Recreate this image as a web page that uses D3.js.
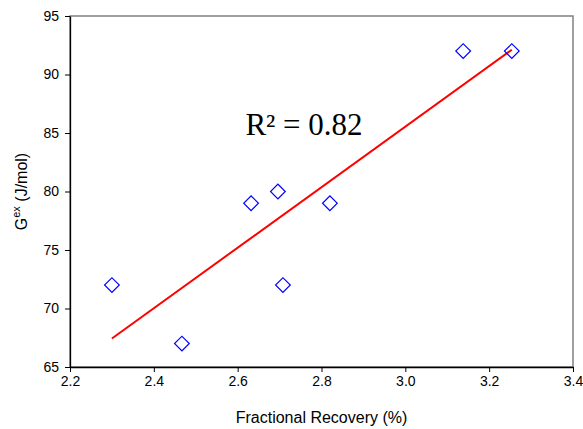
<!DOCTYPE html>
<html>
<head>
<meta charset="utf-8">
<script src="https://cdn.jsdelivr.net/npm/d3@7"></script>
<style>
	body { margin: 0; background: #fff; }
	svg { display: block; font-family: "Liberation Sans", Arial, sans-serif; }
	.axis text { font-size: 14px; fill: #000; }
	.axis path, .axis line { stroke: #000; }
</style>
</head>
<body>
<svg id="plot" width="583" height="429"></svg>
<script>
// values
const RECOVERY = [2.30, 2.467, 2.632, 2.696, 2.708, 2.820, 3.138, 3.254];
const GEX = [72, 67, 79, 80, 72, 79, 92, 92];
const X_TICKS = [2.2, 2.4, 2.6, 2.8, 3.0, 3.2, 3.4];
const Y_TICKS = [65, 70, 75, 80, 85, 90, 95];
const R2_LABEL = 'R\u00B2 = 0.82';

const MARGIN = { top: 16, right: 10, bottom: 62, left: 70 };

const svg = d3.select('#plot');
const width = 583 - MARGIN.left - MARGIN.right;
const height = 429 - MARGIN.top - MARGIN.bottom;

const x = d3.scaleLinear().domain([2.2, 3.4]).range([0, width]);
const y = d3.scaleLinear().domain([65, 95]).range([height, 0]);

const plot = svg.append('g')
	.attr('transform', `translate(${MARGIN.left},${MARGIN.top})`);

// grey plot-area frame (top and right show)
plot.append('rect')
	.attr('width', width)
	.attr('height', height)
	.attr('fill', 'none')
	.attr('stroke', '#808080')
	.attr('stroke-width', 1.5);

plot.append('g')
	.classed('axis', true)
	.attr('transform', `translate(0,${height})`)
	.call(d3.axisBottom(x).tickValues(X_TICKS).tickFormat(d3.format('.1f')).tickSize(5).tickSizeOuter(0).tickPadding(4));

plot.append('g')
	.classed('axis', true)
	.call(d3.axisLeft(y).tickValues(Y_TICKS).tickSize(5).tickSizeOuter(0).tickPadding(6));

plot.selectAll('.axis .domain').attr('stroke-width', 1.3);

// least squares trend line
const data = RECOVERY.map((v, i) => ({ x: v, y: GEX[i] }));
const mx = d3.mean(data, d => d.x);
const my = d3.mean(data, d => d.y);
const slope = d3.sum(data, d => (d.x - mx) * (d.y - my)) / d3.sum(data, d => (d.x - mx) ** 2);
const intercept = my - slope * mx;
const xExt = d3.extent(data, d => d.x);

plot.append('line')
	.attr('x1', x(xExt[0]))
	.attr('y1', y(intercept + slope * xExt[0]))
	.attr('x2', x(xExt[1]))
	.attr('y2', y(intercept + slope * xExt[1]))
	.attr('stroke', '#ff0000')
	.attr('stroke-width', 2);

// diamond markers
const diamond = d3.symbol().type(d3.symbolSquare).size(108);
plot.selectAll('path.pt')
	.data(data)
	.enter()
	.append('path')
		.classed('pt', true)
		.attr('d', diamond)
		.attr('transform', d => `translate(${x(d.x)},${y(d.y)}) rotate(45)`)
		.attr('fill', 'none')
		.attr('stroke', '#0000ff')
		.attr('stroke-width', 1.2);

// R squared annotation
plot.append('text')
	.attr('x', 234)
	.attr('y', 119)
	.attr('text-anchor', 'middle')
	.style('font-family', '"Liberation Serif", "Times New Roman", serif')
	.style('font-size', '31px')
	.text(R2_LABEL);

// axis titles
svg.append('text')
	.attr('x', MARGIN.left + width / 2)
	.attr('y', 423)
	.attr('text-anchor', 'middle')
	.style('font-size', '16px')
	.text('Fractional Recovery (%)');

const yTitle = svg.append('text')
	.attr('transform', `translate(27,${MARGIN.top + height / 2}) rotate(-90)`)
	.attr('text-anchor', 'middle')
	.style('font-size', '16px');
yTitle.append('tspan').text('G');
yTitle.append('tspan').attr('dy', -7).style('font-size', '11px').text('ex');
yTitle.append('tspan').attr('dy', 7).text(' (J/mol)');
</script>
</body>
</html>
